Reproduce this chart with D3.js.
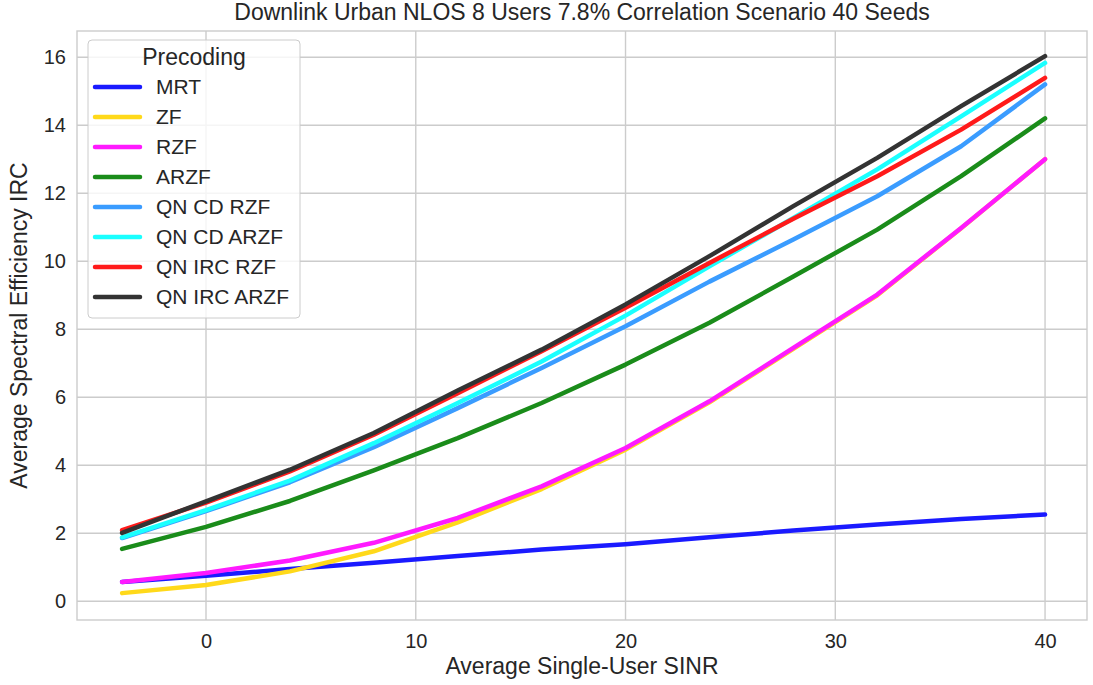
<!DOCTYPE html>
<html>
<head>
<meta charset="utf-8">
<script src="https://cdn.jsdelivr.net/npm/d3@7"></script>
<style>
  body { margin: 0; background: #fff; }
  svg text { font-family: "Liberation Sans", Arial, sans-serif; fill: #262626; }
</style>
</head>
<body>
<svg id="chart" width="1093" height="685"></svg>
<script>
// data
var sinr = [-4, 0, 4, 8, 12, 16, 20, 24, 28, 32, 36, 40];
var mrt      = [0.57, 0.75, 0.95, 1.13, 1.33, 1.52, 1.68, 1.88, 2.08, 2.26, 2.42, 2.55];
var zf       = [0.24, 0.48, 0.88, 1.47, 2.32, 3.30, 4.46, 5.85, 7.42, 9.00, 10.97, 13.00];
var rzf      = [0.57, 0.83, 1.20, 1.72, 2.45, 3.38, 4.51, 5.88, 7.45, 9.02, 10.98, 13.00];
var arzf     = [1.54, 2.19, 2.95, 3.85, 4.80, 5.83, 6.96, 8.19, 9.55, 10.93, 12.50, 14.20];
var qnCdRzf  = [1.86, 2.65, 3.50, 4.53, 5.68, 6.86, 8.09, 9.40, 10.64, 11.91, 13.38, 15.20];
var qnCdArzf = [1.88, 2.68, 3.55, 4.65, 5.83, 7.05, 8.40, 9.85, 11.27, 12.70, 14.26, 15.83];
var qnIrcRzf = [2.09, 2.90, 3.82, 4.90, 6.12, 7.35, 8.63, 9.95, 11.25, 12.50, 13.87, 15.39];
var qnIrcArzf= [2.01, 2.94, 3.87, 4.95, 6.20, 7.40, 8.73, 10.15, 11.62, 13.04, 14.56, 16.03];

var seriesNames = ["MRT", "ZF", "RZF", "ARZF", "QN CD RZF", "QN CD ARZF", "QN IRC RZF", "QN IRC ARZF"];
var seriesValues = [mrt, zf, rzf, arzf, qnCdRzf, qnCdArzf, qnIrcRzf, qnIrcArzf];
var seriesColors = ["#1a1aff", "#ffd91a", "#ff1aff", "#1a8c1a", "#3a9cff", "#1affff", "#ff1a1a", "#333333"];

var xTicks = [0, 10, 20, 30, 40];
var yTicks = [0, 2, 4, 6, 8, 10, 12, 14, 16];

var svg = d3.select('#chart');
var plotL = 77, plotR = 1087, plotT = 31, plotB = 620;

var x = d3.scaleLinear().domain([-6.15, 42.0]).range([plotL, plotR]);
var y = d3.scaleLinear().domain([-0.55, 16.77]).range([plotB, plotT]);

// grid
var grid = svg.append('g');
xTicks.forEach(function (t) {
    grid.append('line')
        .attr('x1', x(t)).attr('x2', x(t)).attr('y1', plotT).attr('y2', plotB)
        .attr('stroke', '#cccccc').attr('stroke-width', 1.4);
});
yTicks.forEach(function (t) {
    grid.append('line')
        .attr('x1', plotL).attr('x2', plotR).attr('y1', y(t)).attr('y2', y(t))
        .attr('stroke', '#cccccc').attr('stroke-width', 1.4);
});

// frame
svg.append('rect')
    .attr('x', plotL).attr('y', plotT).attr('width', plotR - plotL).attr('height', plotB - plotT)
    .attr('fill', 'none').attr('stroke', '#cccccc').attr('stroke-width', 1.4);

// axes
var xAxis = svg.append('g')
    .attr('transform', 'translate(0,' + plotB + ')')
    .call(d3.axisBottom(x).tickValues(xTicks).tickSize(0).tickPadding(14));
var yAxis = svg.append('g')
    .attr('transform', 'translate(' + plotL + ',0)')
    .call(d3.axisLeft(y).tickValues(yTicks).tickSize(0).tickPadding(11));
[xAxis, yAxis].forEach(function (a) {
    a.select('.domain').remove();
    a.selectAll('text').style('font-size', '20px').attr('fill', '#262626');
});

// lines
var line = d3.line()
    .x(function (d, i) { return x(sinr[i]); })
    .y(function (d) { return y(d); });

seriesValues.forEach(function (vals, k) {
    svg.append('path')
        .datum(vals)
        .attr('d', line)
        .attr('fill', 'none')
        .attr('stroke', seriesColors[k])
        .attr('stroke-width', 4.5)
        .attr('stroke-linecap', 'round')
        .attr('stroke-linejoin', 'round');
});

// titles
svg.append('text')
    .attr('x', (plotL + plotR) / 2).attr('y', 20)
    .attr('text-anchor', 'middle')
    .style('font-size', '23px')
    .text('Downlink Urban NLOS 8 Users 7.8% Correlation Scenario 40 Seeds');

svg.append('text')
    .attr('x', (plotL + plotR) / 2).attr('y', 674)
    .attr('text-anchor', 'middle')
    .style('font-size', '23px')
    .text('Average Single-User SINR');

svg.append('text')
    .attr('transform', 'translate(27,' + ((plotT + plotB) / 2) + ') rotate(-90)')
    .attr('text-anchor', 'middle')
    .style('font-size', '23px')
    .text('Average Spectral Efficiency IRC');

// legend
var legend = svg.append('g').attr('transform', 'translate(88,40)');
legend.append('rect')
    .attr('width', 212).attr('height', 278).attr('rx', 4)
    .attr('fill', '#ffffff').attr('fill-opacity', 0.8)
    .attr('stroke', '#cccccc').attr('stroke-width', 1);
legend.append('text')
    .attr('x', 106).attr('y', 25)
    .attr('text-anchor', 'middle')
    .style('font-size', '23px')
    .text('Precoding');
seriesNames.forEach(function (name, k) {
    var yy = 47 + k * 30;
    legend.append('line')
        .attr('x1', 7).attr('x2', 52).attr('y1', yy).attr('y2', yy)
        .attr('stroke', seriesColors[k]).attr('stroke-width', 4.5)
        .attr('stroke-linecap', 'round');
    legend.append('text')
        .attr('x', 68).attr('y', yy + 7)
        .style('font-size', '21px')
        .text(name);
});
</script>
</body>
</html>
